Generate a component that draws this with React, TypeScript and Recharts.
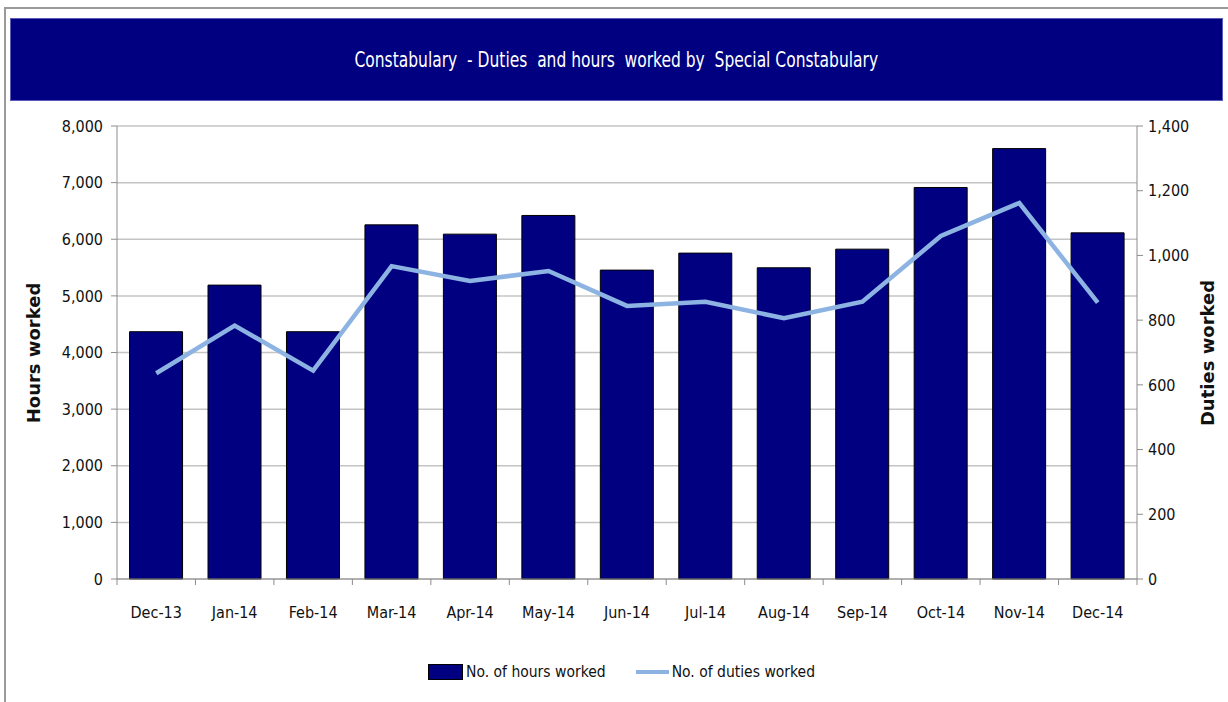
import React from 'react';
import {
  ComposedChart,
  Bar,
  Line,
  XAxis,
  YAxis,
  CartesianGrid,
} from 'recharts';

const months = [
  'Dec-13', 'Jan-14', 'Feb-14', 'Mar-14', 'Apr-14', 'May-14', 'Jun-14',
  'Jul-14', 'Aug-14', 'Sep-14', 'Oct-14', 'Nov-14', 'Dec-14',
];
const hoursWorked = [4367, 5190, 4367, 6254, 6090, 6420, 5455, 5755, 5496, 5825, 6914, 7601, 6113];
const dutiesWorked = [636, 783, 644, 967, 921, 952, 844, 857, 806, 857, 1060, 1162, 854];
const hoursTicks = [0, 1000, 2000, 3000, 4000, 5000, 6000, 7000, 8000];
const dutiesTicks = [0, 200, 400, 600, 800, 1000, 1200, 1400];

const data = months.map((m, i) => ({
  month: m,
  hours: hoursWorked[i],
  duties: dutiesWorked[i],
}));

const FONT = '"DejaVu Sans Condensed", "Liberation Sans", sans-serif';
const NAVY = '#000080';
const LINE_BLUE = '#8db3e2';
const TEXT = '#111111';
const AXIS_GREY = '#8c8c8c';

const fmt = (v: number) => v.toLocaleString('en-US');

// x axis: Excel style ticks sit between categories, labels in the middle
const MonthTick = (props: any) => {
  const { x, y, payload, index } = props;
  const half = payload && payload.offset ? payload.offset : 1020 / 26;
  const last = index === months.length - 1;
  return (
    <g>
      <line x1={x - half} y1={y} x2={x - half} y2={y + 6} stroke={AXIS_GREY} />
      {last && <line x1={x + half} y1={y} x2={x + half} y2={y + 6} stroke={AXIS_GREY} />}
      <text x={x} y={y + 33} textAnchor="middle" dominantBaseline="central"
        fill={TEXT} fontSize={16} fontFamily={FONT}>
        {payload.value}
      </text>
    </g>
  );
};

const axisTitle: React.CSSProperties = {
  position: 'absolute', top: 353, transform: 'translate(-50%, -50%) rotate(-90deg)',
  fontFamily: '"DejaVu Sans", sans-serif', fontWeight: 'bold', fontSize: 18, color: TEXT, whiteSpace: 'nowrap',
};

export default function App() {
  return (
    <div style={{ position: 'absolute', left: 0, top: 0, width: 1228, height: 702, background: '#fff', overflow: 'hidden', fontFamily: FONT }}>
      {/* outer frame, right and bottom edges fall outside the picture */}
      <div style={{ position: 'absolute', left: 4, top: 7, width: 1240, height: 720, borderTop: '2px solid #9a9a9a', borderLeft: '2px solid #9a9a9a' }} />
      {/* title banner */}
      <div style={{
        position: 'absolute', left: 10, top: 18, width: 1211, height: 81, background: NAVY,
        border: '1px solid #5a5ab8',
        color: '#fff', fontSize: 21, display: 'flex', alignItems: 'center', justifyContent: 'center',
      }}>
        <span style={{ display: 'inline-block', transform: 'scaleX(0.82)', whiteSpace: 'nowrap' }}>
          Constabulary&nbsp; - Duties&nbsp; and hours&nbsp; worked by&nbsp; Special Constabulary
        </span>
      </div>

      <div style={{ position: 'absolute', left: 0, top: 0 }}>
        <ComposedChart
          width={1228}
          height={702}
          data={data}
          margin={{ top: 126, right: 0, left: 0, bottom: 93 }}
          barCategoryGap="16%"
        >
          <CartesianGrid yAxisId="left" vertical={false} stroke="#c4c4c4" strokeWidth={1.5} />
          <XAxis
            dataKey="month"
            xAxisId={0}
            height={30}
            axisLine={{ stroke: AXIS_GREY }}
            tickLine={false}
            tickSize={0}
            tickMargin={0}
            interval={0}
            tick={<MonthTick />}
          />
          <YAxis
            yAxisId="left"
            orientation="left"
            width={117}
            domain={[0, 8000]}
            ticks={hoursTicks}
            tickFormatter={fmt}
            axisLine={{ stroke: AXIS_GREY }}
            tickLine={{ stroke: AXIS_GREY }}
            tickSize={6}
            tickMargin={8}
            tick={{ fill: TEXT, fontSize: 16, fontFamily: FONT }}
          />
          <YAxis
            yAxisId="right"
            orientation="right"
            width={91}
            domain={[0, 1400]}
            ticks={dutiesTicks}
            tickFormatter={fmt}
            axisLine={{ stroke: AXIS_GREY }}
            tickLine={{ stroke: AXIS_GREY }}
            tickSize={6}
            tickMargin={5}
            tick={{ fill: TEXT, fontSize: 16, fontFamily: FONT }}
          />
          <Bar
            yAxisId="left"
            dataKey="hours"
            name="No. of hours worked"
            fill={NAVY}
            stroke="#000"
            strokeWidth={1}
            isAnimationActive={false}
          />
          <Line
            yAxisId="right"
            dataKey="duties"
            name="No. of duties worked"
            stroke={LINE_BLUE}
            strokeWidth={4.5}
            dot={false}
            activeDot={false}
            type="linear"
            isAnimationActive={false}
          />
        </ComposedChart>
      </div>

      {/* axis titles */}
      <div style={{ ...axisTitle, left: 33 }}>Hours worked</div>
      <div style={{ ...axisTitle, left: 1207 }}>Duties worked</div>

      {/* legend */}
      <div style={{ position: 'absolute', left: 428, top: 663, display: 'flex', alignItems: 'center', fontSize: 15.5, color: TEXT, whiteSpace: 'nowrap' }}>
        <span style={{ display: 'inline-block', width: 33, height: 14, background: NAVY, border: '1px solid #000' }} />
        <span style={{ marginLeft: 3 }}>No. of hours worked</span>
        <span style={{ display: 'inline-block', width: 33, height: 4, background: LINE_BLUE, marginLeft: 30 }} />
        <span style={{ marginLeft: 3 }}>No. of duties worked</span>
      </div>
    </div>
  );
}
